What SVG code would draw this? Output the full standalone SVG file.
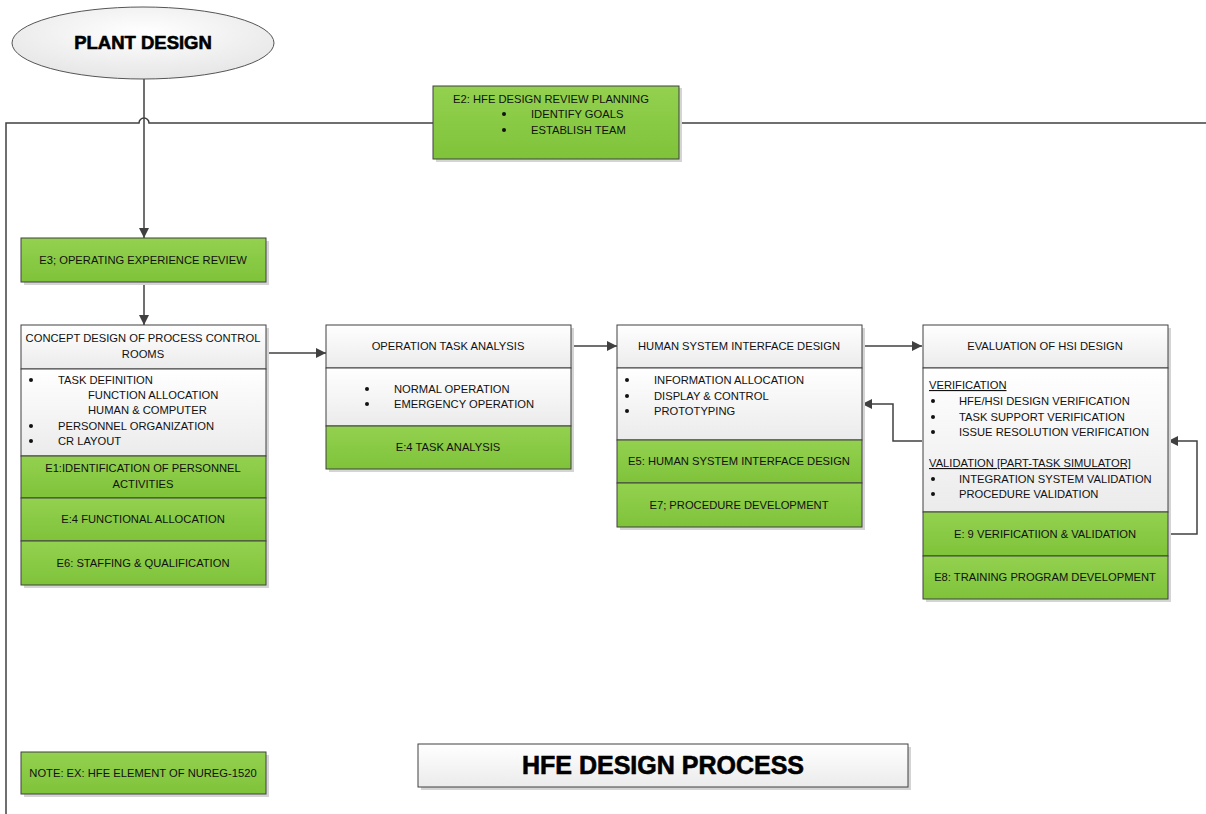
<svg xmlns="http://www.w3.org/2000/svg" width="1206" height="814" viewBox="0 0 1206 814">
<defs>
<linearGradient id="gGreen" x1="0" y1="0" x2="0" y2="1"><stop offset="0" stop-color="#93d14f"/><stop offset="1" stop-color="#7fc33a"/></linearGradient>
<linearGradient id="gGray" x1="0" y1="0" x2="0" y2="1"><stop offset="0" stop-color="#ffffff"/><stop offset="1" stop-color="#ebebeb"/></linearGradient>
<radialGradient id="gEll" cx="0.5" cy="0.35" r="0.7"><stop offset="0" stop-color="#ffffff"/><stop offset="1" stop-color="#e4e4e4"/></radialGradient>
<marker id="arr" viewBox="0 0 10 10" refX="10" refY="5" markerWidth="10" markerHeight="10" markerUnits="userSpaceOnUse" orient="auto"><path d="M0,0 L10,5 L0,10 Z" fill="#404040"/></marker>
</defs>
<style>
.t{font-family:"Liberation Sans",Arial,sans-serif;font-size:11.2px;fill:#111;}
.c{text-anchor:middle;}
.g{fill:url(#gGreen);stroke:#404040;stroke-width:1;}
.w{fill:url(#gGray);stroke:#404040;stroke-width:1;}
.sh{fill:#d4d4d4;}
.ln{fill:none;stroke:#404040;stroke-width:1.5;}
.d{fill:#111;}
.b{font-family:"Liberation Sans",Arial,sans-serif;font-weight:bold;fill:#000;text-anchor:middle;stroke:#000;stroke-width:0.6;}
</style>
<rect width="1206" height="814" fill="#ffffff"/>

<g id="connectors">
<path class="ln" d="M6,814 V123 H139 A5,5 0 0 1 149,123 H1206"/>
<path class="ln" d="M144,79 V238" marker-end="url(#arr)"/>
<path class="ln" d="M144,282 V325" marker-end="url(#arr)"/>
<path class="ln" d="M266,353 H326" marker-end="url(#arr)"/>
<path class="ln" d="M571,346 H617" marker-end="url(#arr)"/>
<path class="ln" d="M862,346 H922" marker-end="url(#arr)"/>
<path class="ln" d="M922,441 H893 V404 H862" marker-end="url(#arr)"/>
<path class="ln" d="M1168,534 H1197 V441 H1168" marker-end="url(#arr)"/>
</g>

<g id="plant-design">
<ellipse cx="143" cy="43" rx="131" ry="36" fill="url(#gEll)" stroke="#555" stroke-width="1"/>
<text class="b" x="143" y="49" font-size="18.5">PLANT DESIGN</text>
</g>

<g id="e2">
<rect class="sh" x="436" y="88" width="246" height="74"/>
<rect class="g" x="433" y="86" width="246" height="73"/>
<text class="t c" x="551" y="103">E2: HFE DESIGN REVIEW PLANNING</text>
<circle class="d" cx="504" cy="114" r="2"/><text class="t" x="531" y="118">IDENTIFY GOALS</text>
<circle class="d" cx="504" cy="130" r="2"/><text class="t" x="531" y="134">ESTABLISH TEAM</text>
</g>

<g id="e3">
<rect class="sh" x="24" y="241" width="245" height="44"/>
<rect class="g" x="21" y="238" width="245" height="44"/>
<text class="t c" x="143" y="264">E3; OPERATING EXPERIENCE REVIEW</text>
</g>

<g id="concept">
<rect class="sh" x="24" y="328" width="245" height="260"/>
<rect class="w" x="21" y="325" width="245" height="44"/>
<text class="t c" x="143" y="342">CONCEPT DESIGN OF PROCESS CONTROL</text>
<text class="t c" x="143" y="358">ROOMS</text>
<rect class="w" x="21" y="369" width="245" height="87"/>
<circle class="d" cx="31" cy="380" r="2"/><text class="t" x="58" y="384">TASK DEFINITION</text>
<text class="t" x="88" y="399">FUNCTION ALLOCATION</text>
<text class="t" x="88" y="414">HUMAN &amp; COMPUTER</text>
<circle class="d" cx="31" cy="426" r="2"/><text class="t" x="58" y="430">PERSONNEL ORGANIZATION</text>
<circle class="d" cx="31" cy="441" r="2"/><text class="t" x="58" y="445">CR LAYOUT</text>
<rect class="g" x="21" y="456" width="245" height="42"/>
<text class="t c" x="143" y="472">E1:IDENTIFICATION OF PERSONNEL</text>
<text class="t c" x="143" y="488">ACTIVITIES</text>
<rect class="g" x="21" y="498" width="245" height="43"/>
<text class="t c" x="143" y="523">E:4 FUNCTIONAL ALLOCATION</text>
<rect class="g" x="21" y="541" width="245" height="44"/>
<text class="t c" x="143" y="567">E6: STAFFING &amp; QUALIFICATION</text>
</g>

<g id="ota">
<rect class="sh" x="329" y="328" width="245" height="144"/>
<rect class="w" x="326" y="325" width="245" height="43"/>
<text class="t c" x="448" y="350">OPERATION TASK ANALYSIS</text>
<rect class="w" x="326" y="368" width="245" height="58"/>
<circle class="d" cx="367" cy="389" r="2"/><text class="t" x="394" y="393">NORMAL OPERATION</text>
<circle class="d" cx="367" cy="404" r="2"/><text class="t" x="394" y="408">EMERGENCY OPERATION</text>
<rect class="g" x="326" y="426" width="245" height="43"/>
<text class="t c" x="448" y="451">E:4 TASK ANALYSIS</text>
</g>

<g id="hsi">
<rect class="sh" x="620" y="328" width="245" height="202"/>
<rect class="w" x="617" y="325" width="245" height="43"/>
<text class="t c" x="739" y="350">HUMAN SYSTEM INTERFACE DESIGN</text>
<rect class="w" x="617" y="368" width="245" height="72"/>
<circle class="d" cx="627" cy="380" r="2"/><text class="t" x="654" y="384">INFORMATION ALLOCATION</text>
<circle class="d" cx="627" cy="396" r="2"/><text class="t" x="654" y="400">DISPLAY &amp; CONTROL</text>
<circle class="d" cx="627" cy="411" r="2"/><text class="t" x="654" y="415">PROTOTYPING</text>
<rect class="g" x="617" y="440" width="245" height="43"/>
<text class="t c" x="739" y="465">E5: HUMAN SYSTEM INTERFACE DESIGN</text>
<rect class="g" x="617" y="483" width="245" height="44"/>
<text class="t c" x="739" y="509">E7; PROCEDURE DEVELOPMENT</text>
</g>

<g id="eval">
<rect class="sh" x="926" y="328" width="245" height="274"/>
<rect class="w" x="923" y="325" width="245" height="43"/>
<text class="t c" x="1045" y="350">EVALUATION OF HSI DESIGN</text>
<rect class="w" x="923" y="368" width="245" height="144"/>
<text class="t" x="929" y="389" text-decoration="underline">VERIFICATION</text>
<circle class="d" cx="933" cy="401" r="2"/><text class="t" x="959" y="405">HFE/HSI DESIGN VERIFICATION</text>
<circle class="d" cx="933" cy="417" r="2"/><text class="t" x="959" y="421">TASK SUPPORT VERIFICATION</text>
<circle class="d" cx="933" cy="432" r="2"/><text class="t" x="959" y="436">ISSUE RESOLUTION VERIFICATION</text>
<text class="t" x="929" y="467" text-decoration="underline">VALIDATION [PART-TASK SIMULATOR]</text>
<circle class="d" cx="933" cy="479" r="2"/><text class="t" x="959" y="483">INTEGRATION SYSTEM VALIDATION</text>
<circle class="d" cx="933" cy="494" r="2"/><text class="t" x="959" y="498">PROCEDURE VALIDATION</text>
<rect class="g" x="923" y="512" width="245" height="44"/>
<text class="t c" x="1045" y="538">E: 9 VERIFICATIION &amp; VALIDATION</text>
<rect class="g" x="923" y="556" width="245" height="43"/>
<text class="t c" x="1045" y="581">E8: TRAINING PROGRAM DEVELOPMENT</text>
</g>

<g id="note">
<rect class="sh" x="24" y="755" width="245" height="42"/>
<rect class="g" x="21" y="752" width="245" height="42"/>
<text class="t c" x="143" y="777">NOTE: EX: HFE ELEMENT OF NUREG-1520</text>
</g>

<g id="title">
<rect class="sh" x="421" y="747" width="490" height="43"/>
<rect class="w" x="418" y="744" width="490" height="43"/>
<text class="b" x="663" y="774" font-size="25">HFE DESIGN PROCESS</text>
</g>
</svg>
